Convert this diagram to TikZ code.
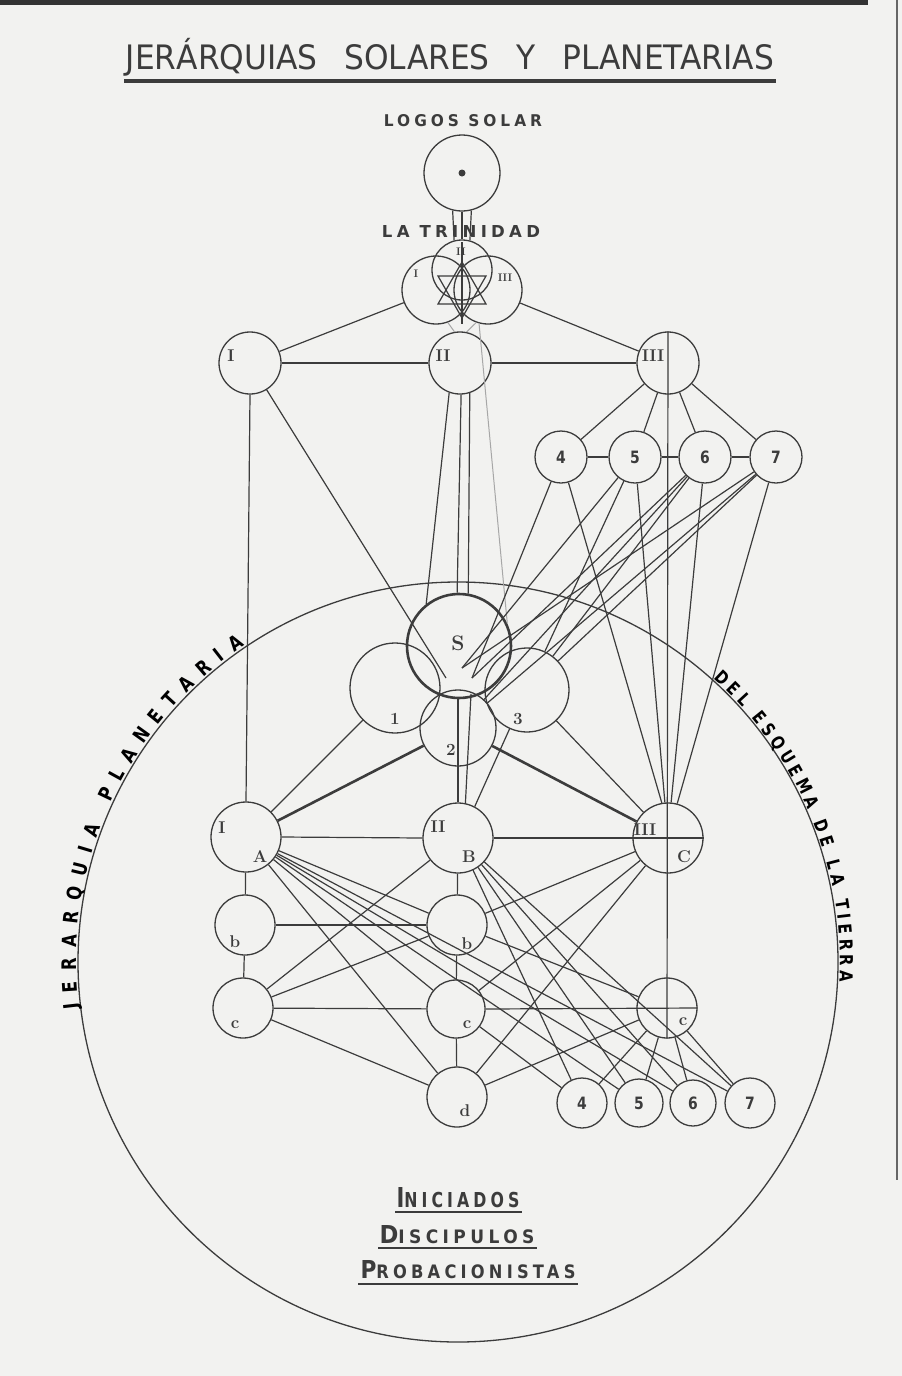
\documentclass[tikz,border=0pt]{standalone}
\usepackage{fontspec}
\usepackage{graphicx}
\usetikzlibrary{decorations.text}
\newfontfamily\letr{DejaVu Sans}[FakeStretch=0.82]
\newfontfamily\letrs{DejaVu Sans}[FakeStretch=0.85,LetterSpace=22]
\definecolor{paper}{RGB}{242,242,240}
\definecolor{ink}{RGB}{60,60,60}
\begin{document}
\begin{tikzpicture}[x=1pt,y=1pt,
  ln/.style={draw=ink, line width=1.2pt},
  thk/.style={draw=ink, line width=2.6pt},
  fnt/.style={draw=ink!45, line width=1pt},
  cnode/.style={circle, draw=ink, line width=1.3pt, inner sep=0pt, minimum size=#1},
  lab/.style={inner sep=0pt, text=ink, font=\fontsize{17}{17}\selectfont\bfseries},
  slab/.style={inner sep=0pt, text=ink, font=\fontsize{11}{11}\selectfont\bfseries},
  num/.style={inner sep=0pt, text=ink, font=\letr\bfseries\fontsize{17}{17}\selectfont},
  ttl/.style={inner sep=0pt, text=ink}
]
\path[use as bounding box] (0,0) rectangle (902,-1376);
\fill[paper] (0,0) rectangle (902,-1376);
\fill[black!80] (0,0) rectangle (868,-5);
\draw[black!60, line width=2pt] (897,0) -- (897,-1180);

% ---------- titles ----------
\node[ttl] (title) at (450,-60) {\resizebox{648pt}{25pt}{\letr JER\smash{\'A}RQUIAS\hspace{0.7em}SOLARES\hspace{0.7em}Y\hspace{0.7em}PLANETARIAS}};
\draw[ink, line width=3.5pt] (124,-81) -- (776,-81);
\node[ttl] (logostxt) at (463,-121) {\resizebox{158pt}{12pt}{\letrs\bfseries LOGOS SOLAR}};
\node[ttl] (trintxt) at (461,-231) {\resizebox{158pt}{12pt}{\letrs\bfseries LA TRINIDAD}};

% ---------- nodes ----------
\node[cnode=76pt] (logos) at (462,-173) {};
\fill[ink] (logos.center) circle[radius=3.5];
\node[cnode=60pt] (tII) at (462,-270) {};
\node[cnode=68pt] (tI) at (436,-290) {};
\node[cnode=68pt] (tIII) at (488,-290) {};
\node[cnode=62pt] (rI) at (250,-363) {};
\node[cnode=62pt] (rII) at (460,-363) {};
\node[cnode=62pt] (rIII) at (668,-363) {};
\node[cnode=52pt] (t4) at (561,-457) {};
\node[cnode=52pt] (t5) at (635,-457) {};
\node[cnode=52pt] (t6) at (705,-457) {};
\node[cnode=52pt] (t7) at (776,-457) {};
\node[cnode=104pt, line width=2.6pt] (S) at (459,-646) {};
\node[cnode=90pt] (n1) at (395,-688) {};
\node[cnode=84pt] (n3) at (527,-690) {};
\node[cnode=76pt] (n2) at (458,-728) {};
\node[cnode=70pt] (A) at (246,-837) {};
\node[cnode=70pt] (B) at (458,-838) {};
\node[cnode=70pt] (C) at (668,-838) {};
\node[cnode=60pt] (b1) at (245,-925) {};
\node[cnode=60pt] (b2) at (457,-925) {};
\node[cnode=60pt] (c1) at (243,-1008) {};
\node[cnode=58pt] (c2) at (456,-1009) {};
\node[cnode=60pt] (c3) at (667,-1008) {};
\node[cnode=60pt] (d) at (457,-1097) {};
\node[cnode=50pt] (u4) at (582,-1103) {};
\node[cnode=48pt] (u5) at (639,-1103) {};
\node[cnode=46pt] (u6) at (693,-1103) {};
\node[cnode=50pt] (u7) at (750,-1103) {};
\node[cnode=760pt] (big) at (458,-962) {};

% ---------- trinity internals ----------
\draw[ln] (462,-242) -- (462,-324);
\draw[ln] (438,-304) -- (486,-304) -- (462,-262) -- cycle;
\draw[ln] (438,-276) -- (486,-276) -- (462,-318) -- cycle;

% ---------- connectors ----------
\draw[ln] (logos.south) -- (tII.north);
\draw[ln] (logos.256) -- (tII.105);
\draw[ln] (logos.284) -- (tII.75);
\draw[ln] (tI) -- (rI);
\draw[ln] (tIII) -- (rIII);
\draw[fnt] (tI.290) -- (rII.100);
\draw[fnt] (tIII.250) -- (rII.78);

\draw[ln] (rI) -- (rII);
\draw[ln] (rII) -- (rIII);
\draw[ln] (rIII.north) -- (c3.south);
\foreach \t in {t4,t5,t6,t7} \draw[ln] (rIII) -- (\t);
\draw[ln] (t4) -- (t5);
\draw[ln] (t5) -- (t6);
\draw[ln] (t6) -- (t7);
\draw[ln] (rI.south) -- (A.north);

\coordinate (PL) at (446,-678);
\coordinate (PR) at (472,-678);
\coordinate (PQ) at (462,-668);
\coordinate (P1) at (458,-698);
\coordinate (P2) at (471,-694);
\draw[ln] (rI) -- (PL);
\draw[ln] (rII.250) -- (S.128);
\draw[ln] (rII.272) -- (S.92);
\draw[ln] (rII.288) -- (S.80);
\draw[fnt] (tIII.255) -- (S.25);

\draw[ln] (t4) -- (PR);
\draw[ln] (t5) -- (PQ);
\draw[ln] (t6) -- (PR);
\draw[ln] (t7) -- (PQ);
\draw[ln] (t4) -- (C.100);
\draw[ln] (t5) -- (C.95);
\draw[ln] (t6) -- (C.85);
\draw[ln] (t7) -- (C.75);
\draw[ln] (t5) -- (n3);
\draw[ln] (t6) -- (n3);
\draw[ln] (t7) -- (n3);
\draw[ln] (t6) -- (n2);
\draw[ln] (t7) -- (n2);

\draw[ln] (n1) -- (A);
\draw[thk] (n2) -- (A);
\draw[ln] (n3) -- (C);
\draw[thk] (n2) -- (C);
\draw[ln] (P1) -- (B.north);
\draw[ln] (P2) -- (B.78);
\draw[ln] (n3) -- (B.62);

\draw[ln] (A.east) -- (B.west);
\draw[ln] (B.east) -- (C.east);
\draw[ln] (A) -- (b1);
\draw[ln] (b1) -- (c1);
\draw[ln] (B) -- (b2);
\draw[ln] (b2) -- (c2);
\draw[ln] (c2) -- (d);
\draw[ln] (b1) -- (b2);
\draw[ln] (c1) -- (c2);
\draw[ln] (c2.east) -- (c3.east);
\draw[ln] (A) -- (b2);
\draw[ln] (b2) -- (c3);
\draw[ln] (c1) -- (b2);
\draw[ln] (b2) -- (C);
\draw[ln] (A) -- (c2);
\draw[ln] (A) -- (d);
\draw[ln] (c1) -- (d);
\draw[ln] (c1) -- (B);
\draw[ln] (d) -- (C);
\draw[ln] (d) -- (c3);
\draw[ln] (c2) -- (C);
\draw[ln] (c2) -- (u4);
\foreach \u in {u5,u6,u7} \draw[ln] (A) -- (\u);
\foreach \u in {u4,u5,u6,u7} \draw[ln] (B) -- (\u);
\foreach \u in {u4,u5,u6,u7} \draw[ln] (c3) -- (\u);

% ---------- labels ----------
\node[slab] (ltII) at (461,-252) {II};
\node[slab] (ltI) at (416,-274) {I};
\node[slab] (ltIII) at (505,-278) {III};
\node[lab] (lrI) at (231,-356) {I};
\node[lab] (lrII) at (443,-356) {II};
\node[lab] (lrIII) at (653,-356) {III};
\node[num] (l4) at (t4) {4};
\node[num] (l5) at (t5) {5};
\node[num] (l6) at (t6) {6};
\node[num] (l7) at (t7) {7};
\node[lab, font=\fontsize{21}{21}\selectfont\bfseries] (lS) at (458,-643) {S};
\node[lab] (l1) at (395,-719) {1};
\node[lab] (l3) at (518,-719) {3};
\node[lab] (l2) at (451,-750) {2};
\node[lab] (lAI) at (222,-828) {I};
\node[lab] (lA) at (260,-857) {A};
\node[lab] (lBII) at (438,-827) {II};
\node[lab] (lB) at (469,-857) {B};
\node[lab] (lCIII) at (645,-830) {III};
\node[lab] (lC) at (684,-857) {C};
\node[lab] (lb1) at (235,-942) {b};
\node[lab] (lb2) at (467,-944) {b};
\node[lab] (lc1) at (235,-1025) {c};
\node[lab] (lc2) at (467,-1025) {c};
\node[lab] (lc3) at (683,-1022) {c};
\node[lab] (ld) at (465,-1111) {d};
\node[num] (m4) at (u4) {4};
\node[num] (m5) at (u5) {5};
\node[num] (m6) at (u6) {6};
\node[num] (m7) at (u7) {7};

% ---------- curved texts ----------
\path[decorate, decoration={text along path, text align={fit to path},
  text={|\letr\bfseries\fontsize{20}{20}\selectfont|JERARQUIA PLANETARIA}}]
  (458,-962) ++(187:382) arc[start angle=187, end angle=124, radius=382];
\path[decorate, decoration={text along path, text align={fit to path},
  text={|\letr\bfseries\fontsize{18}{18}\selectfont|DEL ESQUEMA DE LA TIERRA}}]
  (458,-962) ++(48:382) arc[start angle=48, end angle=-3, radius=382];

% ---------- bottom texts ----------
\node[ttl] (ini) at (458,-1198) {\resizebox{123pt}{20pt}{\letrs\bfseries{\fontsize{20}{20}\selectfont I}{\fontsize{15}{15}\selectfont NICIADOS}}};
\draw[ink, line width=2.5pt] (395,-1212) -- (522,-1212);
\node[ttl] (dis) at (457,-1235) {\resizebox{155pt}{18pt}{\letrs\bfseries{\fontsize{20}{20}\selectfont D}{\fontsize{15}{15}\selectfont ISCIPULOS}}};
\draw[ink, line width=2.5pt] (378,-1248) -- (537,-1248);
\node[ttl] (pro) at (468,-1270) {\resizebox{215pt}{18pt}{\letrs\bfseries{\fontsize{20}{20}\selectfont P}{\fontsize{15}{15}\selectfont ROBACIONISTAS}}};
\draw[ink, line width=2.5pt] (358,-1284) -- (578,-1284);
\end{tikzpicture}
\end{document}
